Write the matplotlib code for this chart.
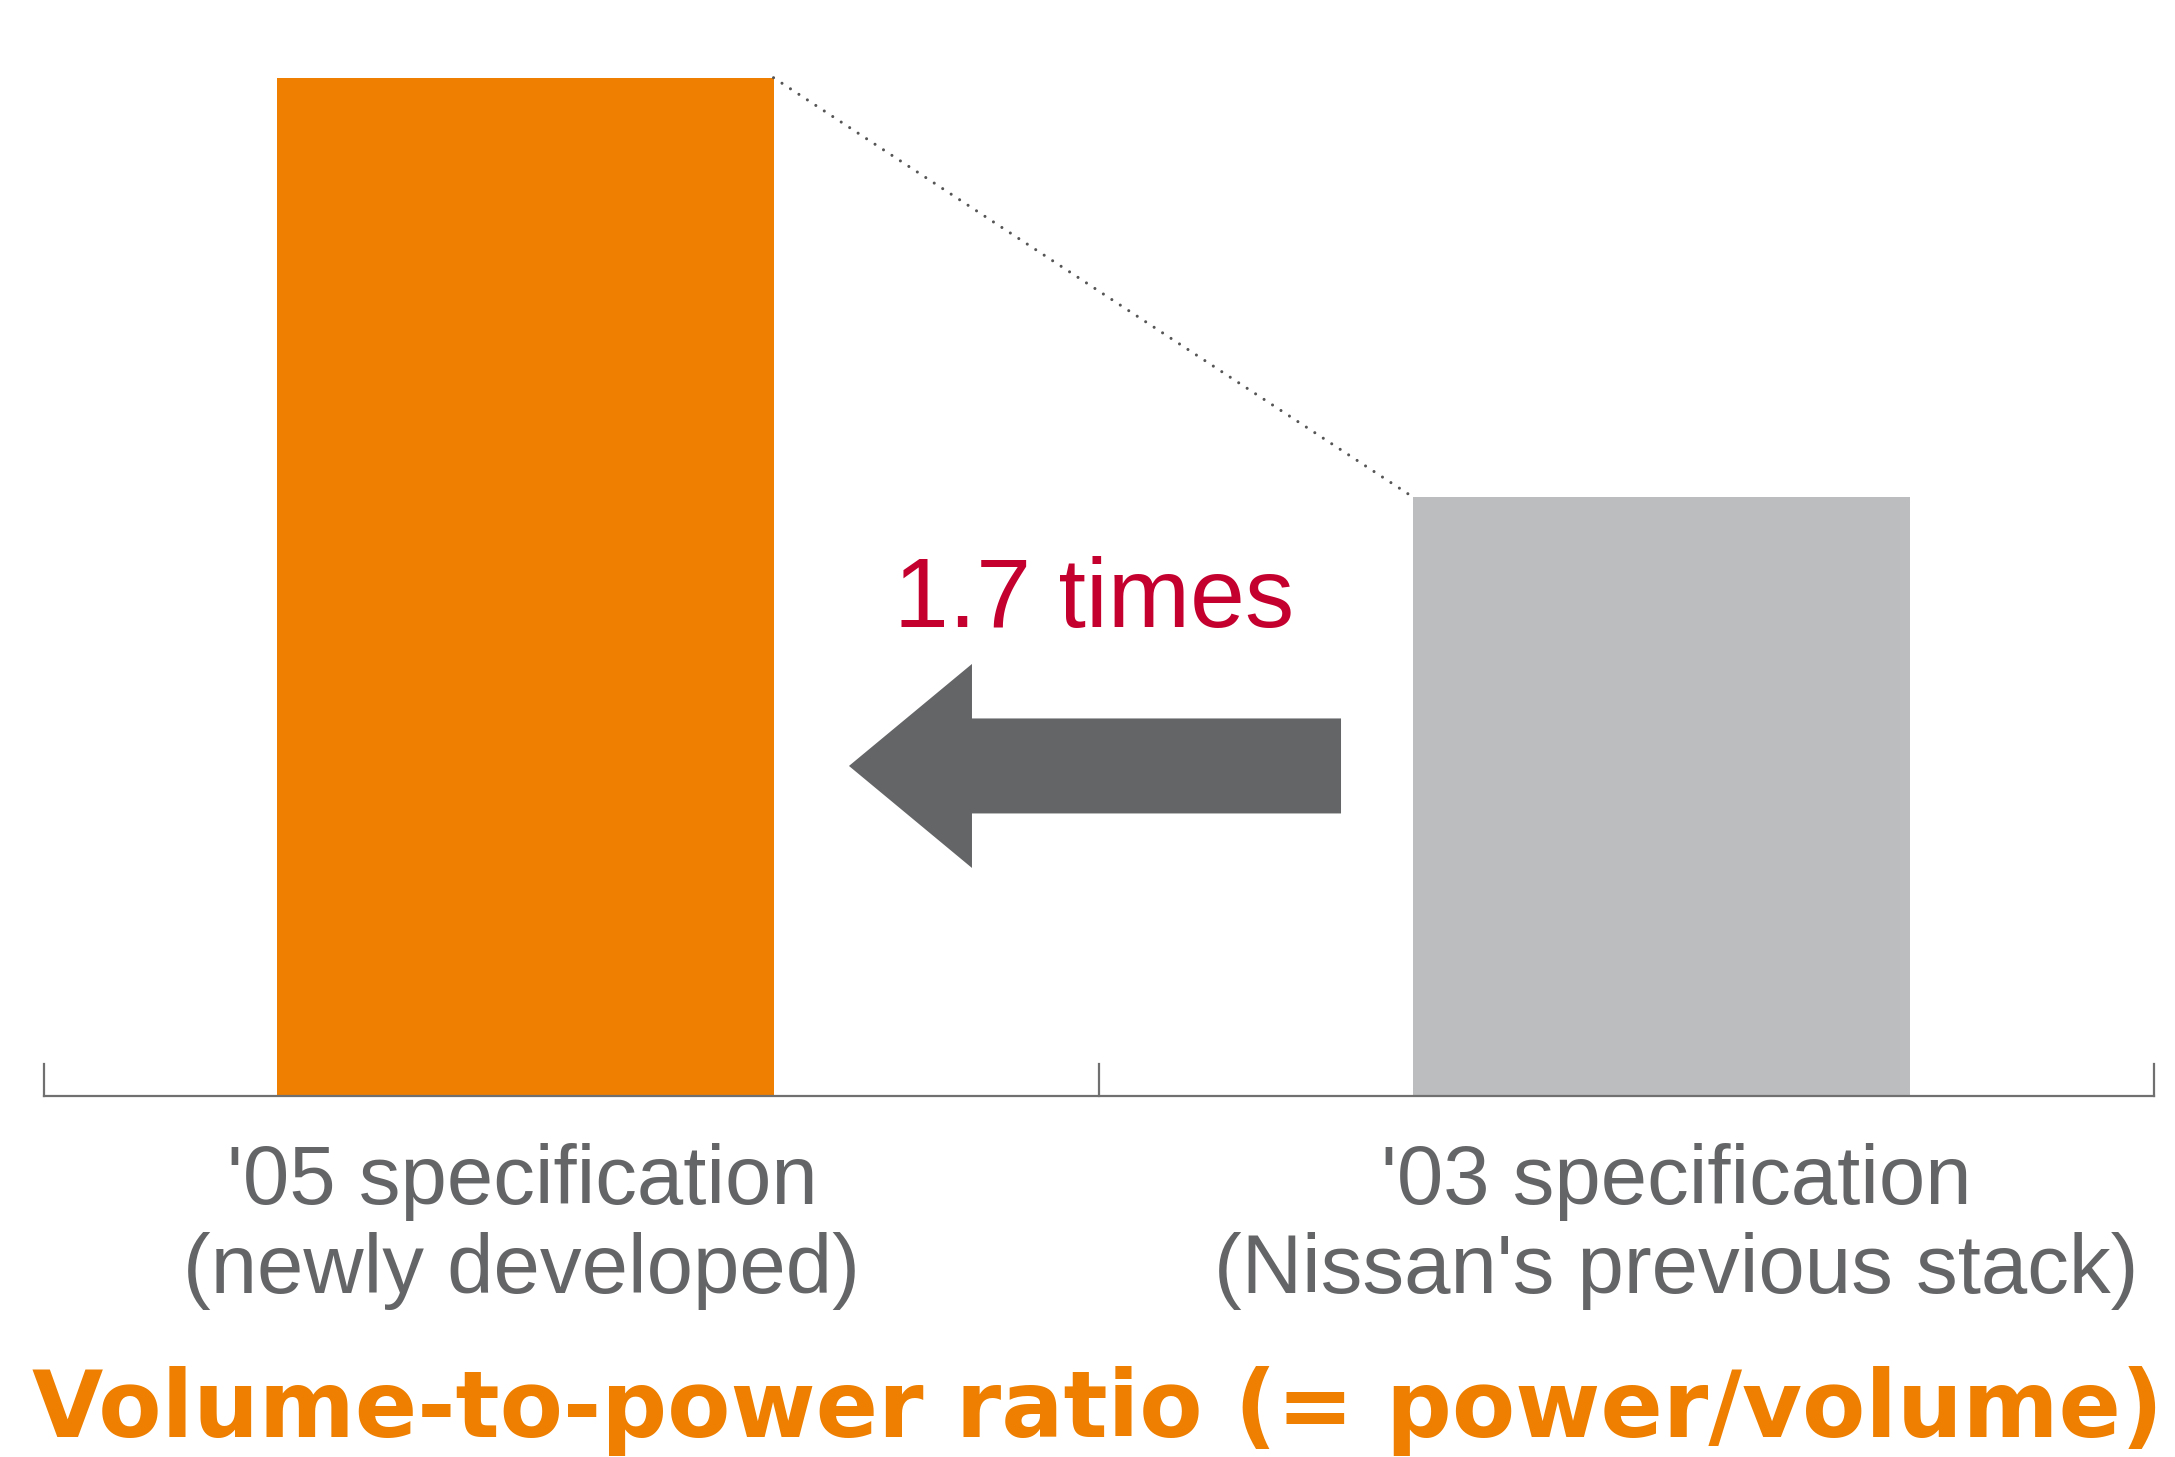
import matplotlib
matplotlib.use("Agg")
import matplotlib.pyplot as plt

# Data
categories = ["'05 specification\n(newly developed)", "'03 specification\n(Nissan's previous stack)"]
ratios = [1.7, 1.0]
ratio_label = "1.7 times"
title = "Volume-to-power ratio (= power/volume)"

# Styling
bar_colors = ["#EE7F00", "#BCBDBF"]
text_gray = "#646567"
arrow_gray = "#646567"
crimson = "#C4002F"
axis_gray = "#707070"
bar_pos = [-0.044, 1.033]
label_pos = [-0.047, 1.047]
bar_width = 0.471

W, H, DPI = 2175, 1457, 100
fig = plt.figure(figsize=(W / DPI, H / DPI), dpi=DPI)
fig.patch.set_facecolor("white")

axis_y_px = 1096
ax_left, ax_right = 44 / W, 2154 / W
ax_bottom = (H - axis_y_px) / H
ax = fig.add_axes([ax_left, ax_bottom, ax_right - ax_left, 1 - ax_bottom])
ax.set_xlim(-0.5, 1.5)
ax.set_ylim(0, axis_y_px / 599.0)
ax.axis("off")

# Bars
ax.bar(bar_pos, ratios, width=bar_width, color=bar_colors, zorder=2)

# Baseline with boundary ticks
ax.plot([-0.5, 1.5], [0, 0], color=axis_gray, lw=1.6, clip_on=False, zorder=3)
for xt in (-0.5, 0.5, 1.5):
    ax.plot([xt, xt], [0, 0.054], color=axis_gray, lw=1.6, clip_on=False, zorder=3)

# Dotted connector between bar tops
ax.plot([bar_pos[0] + bar_width / 2, bar_pos[1] - bar_width / 2],
        [ratios[0], ratios[1]], color="#555555", lw=2.2,
        linestyle=(0, (0.01, 3.3)), dash_capstyle="round", zorder=3)

# Left-pointing block arrow
tail_x, tip_x = 0.7294, 0.263
head_len = 0.1166
yc, body_h, head_h = 0.551, 0.1586, 0.3406
base_x = tip_x + head_len
arrow_x = [tail_x, base_x, base_x, tip_x, base_x, base_x, tail_x]
arrow_y = [yc + body_h / 2, yc + body_h / 2, yc + head_h / 2, yc,
           yc - head_h / 2, yc - body_h / 2, yc - body_h / 2]
ax.fill(arrow_x, arrow_y, color=arrow_gray, lw=0, zorder=3)

ax.text(0.495, (axis_y_px - 627) / 599.0, ratio_label, color=crimson,
        fontsize=71, family="Liberation Sans", ha="center", va="baseline")

# Category labels
for x, lab in zip(label_pos, categories):
    l1, l2 = lab.split("\n")
    ax.text(x, -(1204 - axis_y_px) / 599.0, l1, color=text_gray, fontsize=60,
            family="Liberation Sans", ha="center", va="baseline", clip_on=False)
    ax.text(x, -(1293 - axis_y_px) / 599.0, l2, color=text_gray, fontsize=60,
            family="Liberation Sans", ha="center", va="baseline", clip_on=False)

# Bold title, sized to span the chart width
t = fig.text(1097 / W, (H - 1437) / H, title, color=bar_colors[0], fontsize=72,
             family="DejaVu Sans", fontweight="bold", ha="center", va="baseline")
renderer = fig.canvas.get_renderer()
width_px = t.get_window_extent(renderer=renderer).width
t.set_fontsize(72 * 2130 / width_px)

fig.savefig("out.png", dpi=DPI, facecolor="white")
